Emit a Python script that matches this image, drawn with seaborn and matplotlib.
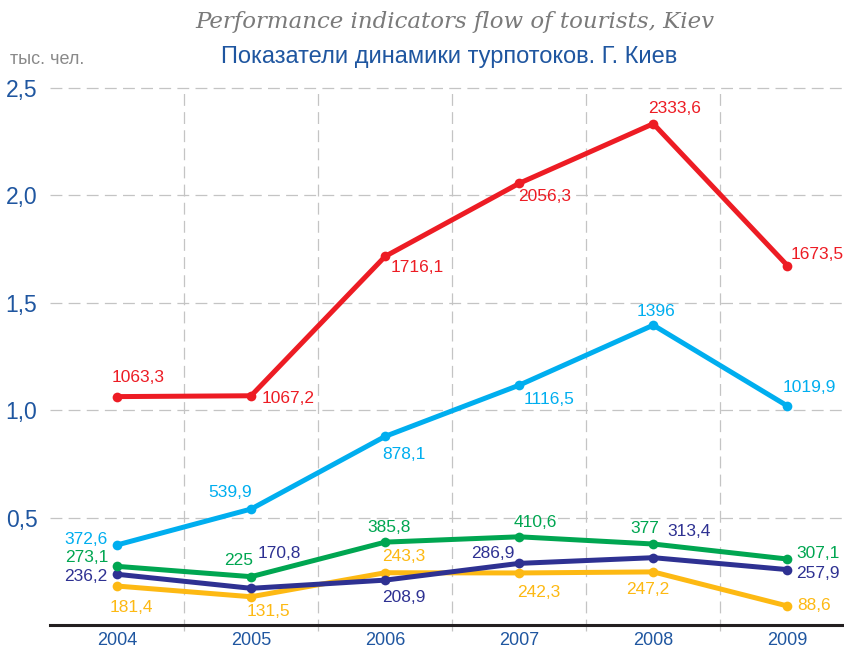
import numpy as np
import pandas as pd
import matplotlib
matplotlib.use("Agg")
import matplotlib.pyplot as plt
import seaborn as sns

# données (тыс. чел.)
years = ["2004", "2005", "2006", "2007", "2008", "2009"]
series_names = ["total", "inbound", "green", "navy", "yellow"]
red_vals = [1063.3, 1067.2, 1716.1, 2056.3, 2333.6, 1673.5]
cyan_vals = [372.6, 539.9, 878.1, 1116.5, 1396, 1019.9]
green_vals = [273.1, 225, 385.8, 410.6, 377, 307.1]
navy_vals = [236.2, 170.8, 208.9, 286.9, 313.4, 257.9]
yellow_vals = [181.4, 131.5, 243.3, 242.3, 247.2, 88.6]
yticks = [0.5, 1.0, 1.5, 2.0, 2.5]

colors = {"total": "#ed1c24", "inbound": "#00aeef", "green": "#00a651",
          "navy": "#2e3192", "yellow": "#fdb913"}

# décalages des étiquettes (pixels) et alignement
label_pos = {
    "total": [(-5, 19, "left"), (11, -3, "left"), (5, -11, "left"), (-1, -13, "left"), (-5, 15, "left"), (3, 11, "left")],
    "inbound": [(-9, 5, "right"), (1, 17, "right"), (-3, -18, "left"), (4, -14, "left"), (-17, 14, "left"), (-5, 18, "left")],
    "green": [(-9, 9, "right"), (2, 16, "right"), (-18, 15, "left"), (-6, 14, "left"), (6, 16, "right"), (9, 6, "left")],
    "navy": [(-10, -2, "right"), (7, 35, "left"), (-3, -17, "left"), (-5, 10, "right"), (14, 26, "left"), (9, -4, "left")],
    "yellow": [(-7, -21, "left"), (-4, -15, "left"), (-3, 16, "left"), (-2, -20, "left"), (16, -18, "right"), (10, 0, "left")],
}

values = {"total": red_vals, "inbound": cyan_vals, "green": green_vals,
          "navy": navy_vals, "yellow": yellow_vals}

rows = []
for name in series_names:
    for i, v in enumerate(values[name]):
        rows.append({"serie": name, "x": i, "year": years[i], "val": v, "mln": v / 1000})
df = pd.DataFrame(rows)

sns.set_style("white")
plt.rcParams["font.family"] = ["Liberation Sans", "DejaVu Sans"]

fig = plt.figure(figsize=(8.45, 6.5), dpi=100)
ax = fig.add_axes([50 / 845, 25 / 650, 795 / 845, 537 / 650])

# grille
grid_kw = dict(color="#c4c4c4", linewidth=0.9, dashes=(9.5, 5), zorder=0)
for yv in yticks:
    ax.plot([-0.5, 5.45], [yv, yv], clip_on=False, **grid_kw)
for xv in np.arange(0.5, 5, 1.0):
    ax.plot([xv, xv], [-0.03, 2.5], clip_on=False, **grid_kw)

for name in ["yellow", "navy", "green", "inbound", "total"]:
    sub = df[df["serie"] == name]
    sns.lineplot(data=sub, x="x", y="mln", ax=ax, color=colors[name],
                 linewidth=3.6, marker="o", markersize=7, markeredgewidth=0,
                 clip_on=False, zorder=3)
    for (_, r), (dx, dy, ha) in zip(sub.iterrows(), label_pos[name]):
        lab = f"{r['val']:g}".replace(".", ",")
        ax.annotate(lab, (r["x"], r["mln"]), xytext=(dx * 0.72, dy * 0.72),
                    textcoords="offset points", ha=ha, va="center",
                    fontsize=12.5, color=colors[name], zorder=5)

ax.set_xlim(-0.5, 5.43)
ax.set_ylim(0, 2.5)
ax.set_xlabel("")
ax.set_ylabel("")
ax.set_xticks(range(len(years)))
ax.set_xticklabels(years, fontsize=13, color="#1f56a0")
ax.set_yticks(yticks)
ax.set_yticklabels([f"{t:.1f}".replace(".", ",") for t in yticks],
                   fontsize=16.5, color="#1f56a0")
ax.tick_params(axis="x", length=0, pad=5)
ax.tick_params(axis="y", length=0, pad=9)
for s in ["top", "right", "left"]:
    ax.spines[s].set_visible(False)
ax.spines["bottom"].set_color("#231f20")
ax.spines["bottom"].set_linewidth(2.2)
ax.spines["bottom"].set_zorder(4)

fig.text(455 / 845, 1 - 22 / 650, "Performance indicators flow of tourists, Kiev",
         ha="center", va="center", fontsize=16.5, style="italic",
         family="DejaVu Serif", color="#7a7a7a")
fig.text(449 / 845, 1 - 57 / 650, "Показатели динамики турпотоков. Г. Киев",
         ha="center", va="center", fontsize=17, color="#1f56a0")
fig.text(10 / 845, 1 - 60 / 650, "тыс. чел.", ha="left", va="center",
         fontsize=13, color="#8a8a8a")

plt.savefig("out.png", dpi=100)
